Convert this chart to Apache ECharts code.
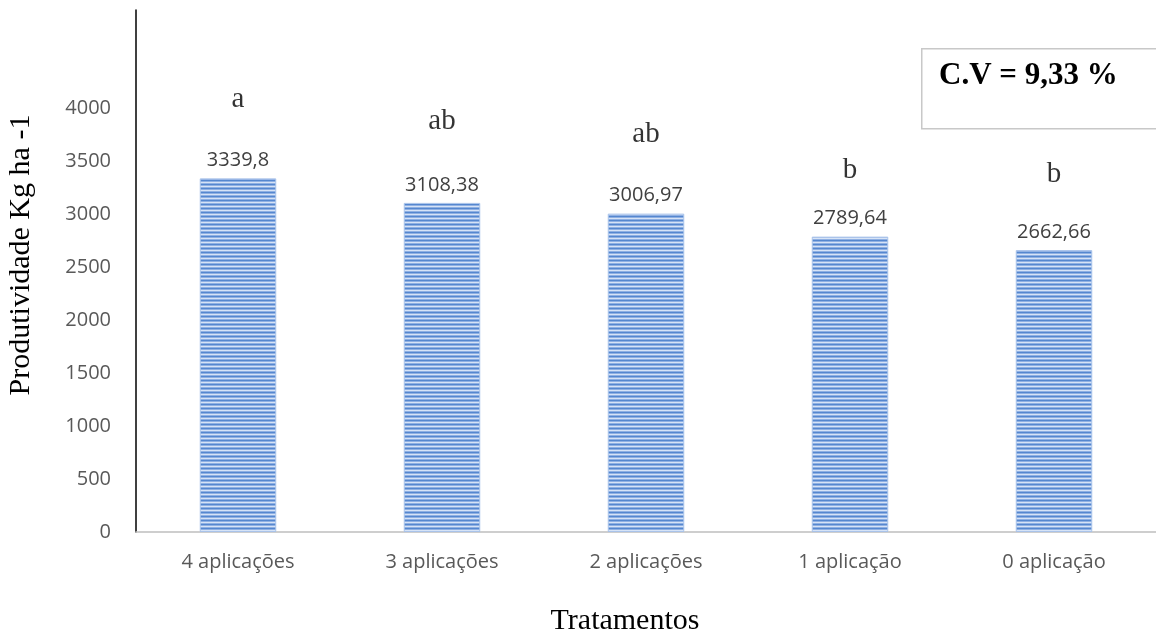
<!DOCTYPE html>
<html>
<head>
<meta charset="utf-8">
<script src="https://cdn.jsdelivr.net/npm/echarts@6/dist/echarts.min.js"></script>
<style>
  html, body { margin: 0; padding: 0; background: #fff; }
  #chart { width: 1156px; height: 634px; }
</style>
</head>
<body>
<div id="chart"></div>
<script>
// dados do gráfico
var tratamentos = ["4 aplicações", "3 aplicações", "2 aplicações", "1 aplicação", "0 aplicação"];
var produtividade = [3339.8, 3108.38, 3006.97, 2789.64, 2662.66];
var letrasTukey = ["a", "ab", "ab", "b", "b"];
// altura (em unidades do eixo) onde as letras aparecem
var alturaLetras = [4085, 3877, 3754, 3414, 3376];
var yMax = 4930;
var yStep = 500;

// textura listrada das barras
function listras() {
  var c = document.createElement("canvas");
  c.width = 4;
  c.height = 4;
  var ctx = c.getContext("2d");
  var cores = ["#5587cf", "#8fb0e3", "#d6e3f6", "#8fb0e3"];
  cores.forEach(function (cor, i) {
    ctx.fillStyle = cor;
    ctx.fillRect(0, i, 4, 1);
  });
  return c;
}

var chart = echarts.init(document.getElementById("chart"));
chart.setOption({
  animation: false,
  grid: { left: 136, right: 0, top: 10, bottom: 102, outerBoundsMode: "none" },
  xAxis: {
    type: "category",
    data: tratamentos,
    name: "Tratamentos",
    nameLocation: "middle",
    nameGap: 74,
    nameTextStyle: { fontFamily: "Liberation Serif", fontSize: 30, color: "#000", padding: [0, 42, 0, 0] },
    axisLine: { lineStyle: { color: "#bfbfbf", width: 1.5 } },
    axisTick: { show: false },
    axisLabel: { margin: 20, fontFamily: "Open Sans", fontSize: 20, color: "#595959" }
  },
  yAxis: {
    type: "value",
    min: 0,
    max: yMax,
    interval: yStep,
    name: "Produtividade Kg ha -1",
    nameLocation: "middle",
    nameGap: 100,
    nameTextStyle: { fontFamily: "Liberation Serif", fontSize: 30, color: "#000", padding: [0, 0, 0, 32] },
    axisLine: { show: true, lineStyle: { color: "#000", width: 1.5 } },
    axisTick: { show: false },
    splitLine: { show: false },
    axisLabel: {
      margin: 25,
      fontFamily: "Open Sans",
      fontSize: 20,
      color: "#595959",
      showMaxLabel: false,
      formatter: function (v) { return v > 4000 ? "" : v; }
    }
  },
  series: [
    {
      type: "bar",
      data: produtividade,
      barWidth: "37.5%",
      itemStyle: {
        color: { image: listras(), repeat: "repeat" },
        borderColor: "#a9c3ea",
        borderWidth: 1
      },
      label: {
        show: true,
        position: "top",
        distance: 8,
        fontFamily: "Open Sans",
        fontSize: 20,
        color: "#404040",
        formatter: function (p) { return String(p.value).replace(".", ","); }
      }
    },
    {
      type: "scatter",
      data: alturaLetras,
      symbolSize: 0,
      silent: true,
      label: {
        show: true,
        position: "inside",
        fontFamily: "Liberation Serif",
        fontSize: 29,
        color: "#000",
        formatter: function (p) { return letrasTukey[p.dataIndex]; }
      }
    }
  ],
  graphic: [
    {
      type: "rect",
      left: 921,
      top: 48,
      shape: { width: 240, height: 80 },
      style: { fill: "#fff", stroke: "#c8c8c8", lineWidth: 1.5 }
    },
    {
      type: "text",
      left: 939,
      top: 60,
      style: {
        text: "C.V = 9,33 %",
        font: "bold 31px 'Liberation Serif'",
        fill: "#000"
      }
    }
  ]
});
</script>
</body>
</html>
